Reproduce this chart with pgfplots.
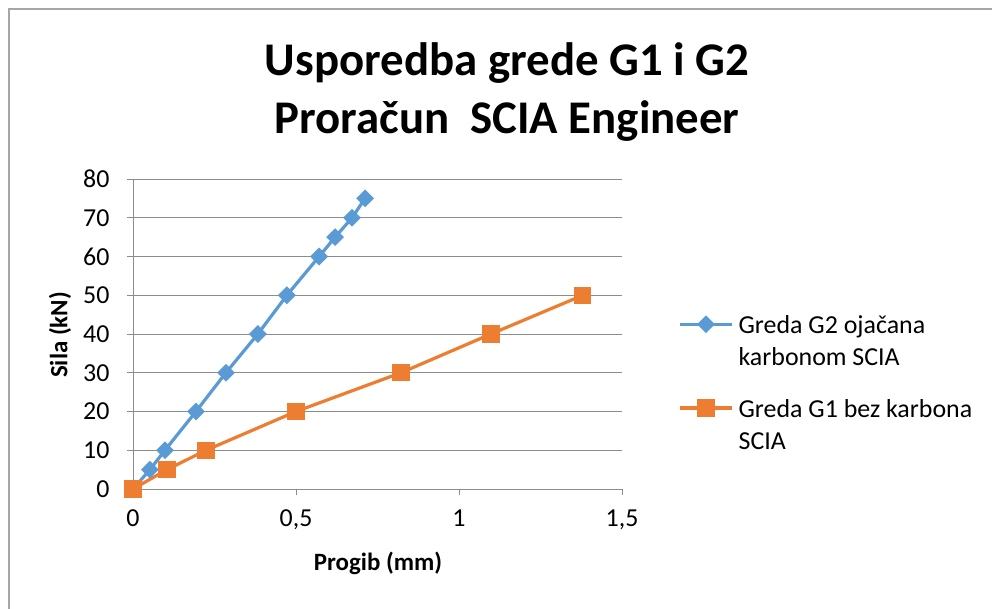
\documentclass[border=0pt]{standalone}
\usepackage{pgfplots}
\pgfplotsset{compat=1.18}
\usepackage{fontspec}
\setmainfont{Carlito}
\definecolor{sblue}{HTML}{5B9BD5}
\definecolor{sorange}{HTML}{ED7D31}
\definecolor{gridgray}{HTML}{8C8C8C}
\definecolor{bordergray}{HTML}{A6A6A6}
\pgfplotsset{
  mylegend/.style={
    legend style={anchor=west, draw=none, fill=none, inner sep=0pt, column sep=5bp,
      font=\fontsize{26}{32}\selectfont, nodes={inner sep=0pt}},
    legend cell align=left,
    legend image code/.code={\draw[mark repeat=2,mark phase=2,##1] plot coordinates {(0bp,7bp) (26bp,7bp) (52bp,7bp)};},
  },
  myaxis/.style={at={(133bp,120bp)}, anchor=south west,
    scale only axis, width=489bp, height=310bp,
    xmin=0, xmax=1.5, ymin=0, ymax=80},
}
\begin{document}
\begin{tikzpicture}
\useasboundingbox (0,0) rectangle (992bp,609bp);
\draw[bordergray, line width=2bp] (9bp,0bp) -- (9bp,600bp) -- (992bp,600bp);
\node[font=\bfseries\fontsize{47}{58}\selectfont, align=center] at (507bp,517bp)
  {Usporedba grede G1 i G2\\Proračun\ \ SCIA Engineer};
\begin{axis}[
  myaxis, mylegend,
  xtick={0,0.5,1,1.5}, ytick={0,10,...,80},
  axis lines=left, axis line style={-, gridgray, line width=1bp},
  ymajorgrids, grid style={gridgray, line width=1bp},
  tick align=outside, major tick length=6bp,
  tick style={gridgray, line width=1bp},
  /pgf/number format/assume math mode=true,
  /pgf/number format/use comma,
  ticklabel style={font=\fontsize{26}{31}\selectfont},
  yticklabel style={xshift=-14bp},
  xticklabel style={yshift=-11bp},
  xlabel={Progib (mm)}, ylabel={Sila (kN)},
  label style={font=\bfseries\fontsize{25}{30}\selectfont},
  xlabel style={at={(axis description cs:0.501,-0.239)}, anchor=center},
  ylabel style={at={(axis description cs:-0.149,0.497)}, anchor=center},
  legend style={at={(axis description cs:1.115,0.509)}},
]
\addplot[sblue, line width=3.2bp, mark=square*, mark size=4.7bp, mark options={rotate=45, solid}]
coordinates {(0,0) (0.052,5) (0.098,10) (0.193,20) (0.285,30) (0.383,40) (0.472,50) (0.571,60) (0.620,65) (0.672,70) (0.712,75)};
\addlegendentry{\begin{tabular}{@{}l@{}}Greda G2 ojačana\\karbonom SCIA\end{tabular}}
\addplot[sorange, line width=3.2bp, mark=square*, mark size=7bp, mark options={solid}, forget plot]
coordinates {(0,0) (0.104,5) (0.224,10) (0.500,20) (0.822,30) (1.098,40) (1.380,50)};
\end{axis}
\begin{axis}[myaxis, mylegend, hide axis,
  legend style={at={(axis description cs:1.115,0.239)}}]
\addlegendimage{sorange, line width=3.2bp, mark=square*, mark size=7bp, mark options={solid}}
\addlegendentry{\begin{tabular}{@{}l@{}}Greda G1 bez karbona\\SCIA\end{tabular}}
\end{axis}
\end{tikzpicture}
\end{document}
